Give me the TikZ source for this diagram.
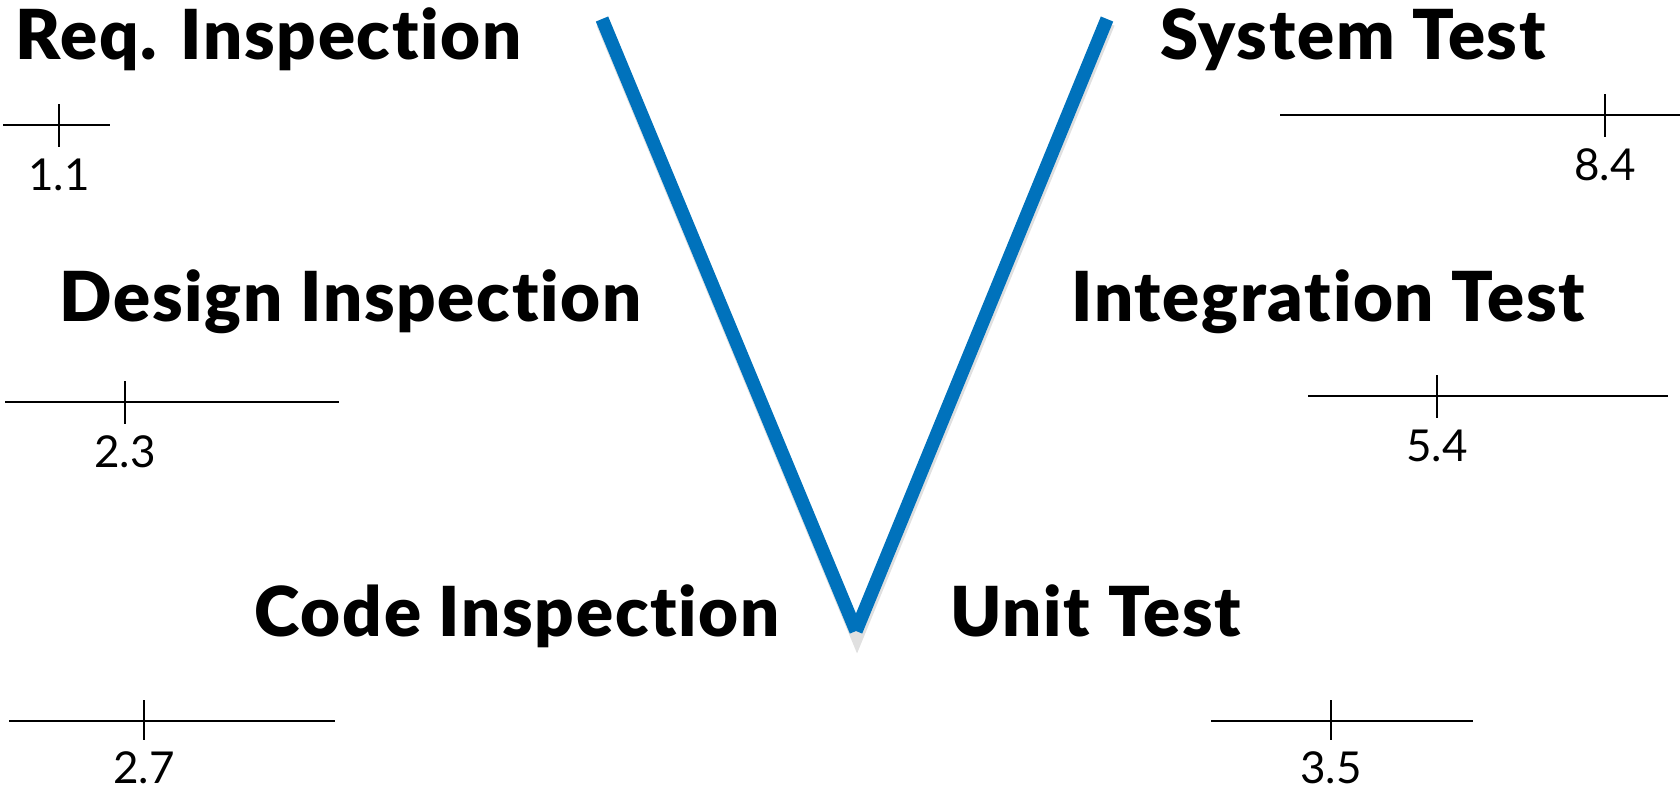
\documentclass[tikz,border=0pt]{standalone}
\usepackage{fontspec}
\setmainfont{Lato}[BoldFont={Lato Black}, BoldFeatures={LetterSpace=2.5}, Ligatures=NoCommon]
\usetikzlibrary{positioning}
\definecolor{vblue}{RGB}{0,114,188}

\begin{document}
\begin{tikzpicture}[x=0.01cm, y=-0.01cm,
    phase/.style={anchor=base west, inner sep=0pt, font=\fontsize{19.6}{24}\selectfont\bfseries},
    score/.style={below=3pt, inner sep=0pt, font=\fontsize{12.5}{15}\selectfont},
    bar/.style={line width=0.6pt},
    vline/.style={vblue, line width=3.8pt}]
    \useasboundingbox (0,0) rectangle (1680,790);
    % the V
    \coordinate (vl) at (602,19);
    \coordinate (vb) at (856,631);
    \coordinate (vr) at (1107,19);
    \draw[black!12, line width=4pt] ([shift={(1,4)}]vl) -- ([shift={(1,4)}]vb) -- ([shift={(1,4)}]vr);
    \draw[vline] (vl) -- (vb);
    \draw[vline] (vb) -- (vr);
    % phases, left
    \node[phase] (req) at (15,59) {Req. Inspection};
    \node[phase] (design) at (59,321) {Design Inspection};
    \node[phase] (code) at (254,636) {Code Inspection};
    % phases, right
    \node[phase] (system) at (1160,59) {System Test};
    \node[phase] (integ) at (1071,321) {Integration Test};
    \node[phase] (unit) at (950,636) {Unit Test};
    % scales
    \draw[bar] (3,125) -- (110,125);
    \draw[bar] (59,104) -- (59,147) node[score] (sreq) {1.1};
    \draw[bar] (5,402) -- (339,402);
    \draw[bar] (125,381) -- (125,424) node[score] (sdesign) {2.3};
    \draw[bar] (9,721) -- (335,721);
    \draw[bar] (144,700) -- (144,740) node[score] (scode) {2.7};
    \draw[bar] (1280,115) -- (1680,115);
    \draw[bar] (1605,94) -- (1605,137) node[score] (ssystem) {8.4};
    \draw[bar] (1308,396) -- (1668,396);
    \draw[bar] (1437,375) -- (1437,418) node[score] (sinteg) {5.4};
    \draw[bar] (1211,721) -- (1473,721);
    \draw[bar] (1331,700) -- (1331,740) node[score] (sunit) {3.5};
\end{tikzpicture}
\end{document}
